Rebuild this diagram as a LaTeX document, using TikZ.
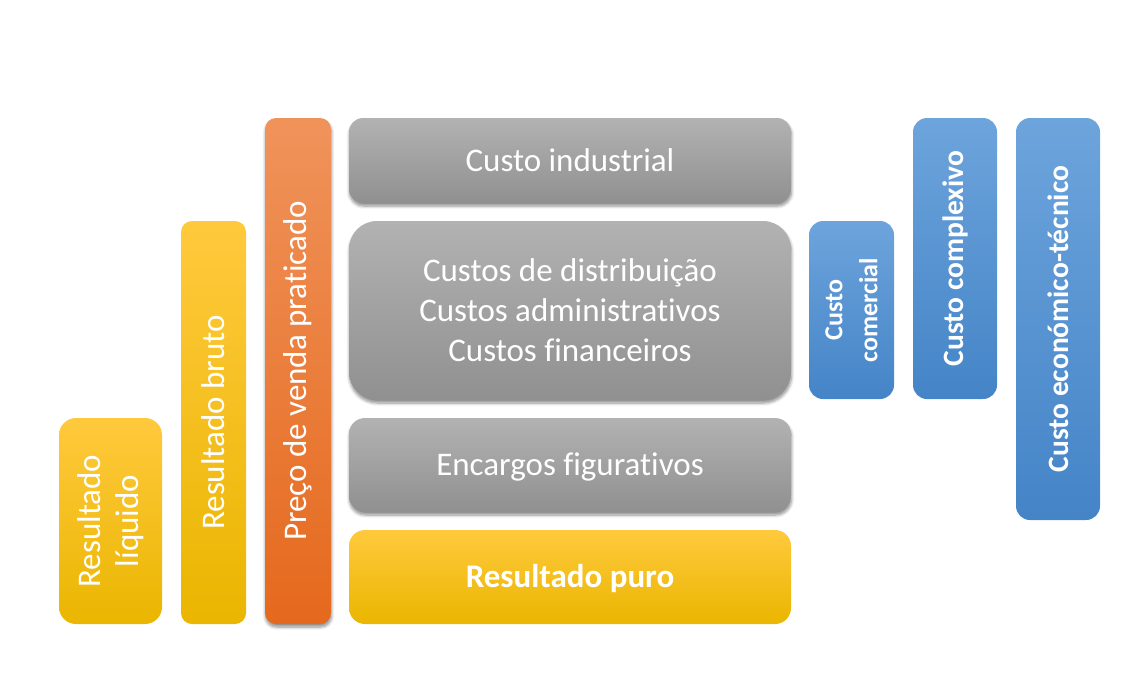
\documentclass[tikz,border=0pt]{standalone}
\usepackage{fontspec}
\setmainfont{Carlito}[Ligatures=NoCommon, RawFeature={-liga;-clig;-dlig;-calt}]
\usetikzlibrary{shadows.blur}

\definecolor{cinzaTopo}{HTML}{B2B2B2}
\definecolor{cinzaBase}{HTML}{909090}
\definecolor{amareloTopo}{HTML}{FFC93D}
\definecolor{amareloMeio}{HTML}{FFC000}
\definecolor{amareloBase}{HTML}{EAB600}
\definecolor{laranjaTopo}{HTML}{F0935B}
\definecolor{laranjaBase}{HTML}{E5691D}
\definecolor{azulTopo}{HTML}{6DA4DC}
\definecolor{azulBase}{HTML}{4484C7}

\begin{document}
\begin{tikzpicture}[x=1pt,y=-1pt,
    caixa/.style={rectangle, rounded corners=14pt, inner sep=0pt},
    sombra/.style={blur shadow={shadow xshift=0.5pt, shadow yshift=-3pt,
        shadow blur steps=6, shadow blur radius=3pt, shadow opacity=45}},
    cinza/.style={caixa, sombra, top color=cinzaTopo, bottom color=cinzaBase},
    amarelo/.style={caixa, top color=amareloTopo, middle color=amareloMeio,
        bottom color=amareloBase},
    laranja/.style={caixa, sombra, top color=laranjaTopo, bottom color=laranjaBase},
    azul/.style={caixa, top color=azulTopo, bottom color=azulBase},
    texto/.style={text=white, align=center, font=\fontsize{33}{40}\selectfont},
    textoazul/.style={text=white, align=center, font=\bfseries\fontsize{29.5}{35}\selectfont}]

    \useasboundingbox (0,0) rectangle (1145,681);

    % colunas da esquerda
    \node[amarelo, minimum width=103, minimum height=206, rounded corners=17pt] (liquido) at (110.5,521) {};
    \node[texto, rotate=90, font=\fontsize{33}{38}\selectfont] (liquidoT) at (liquido) {Resultado\\líquido};

    \node[amarelo, minimum width=65, minimum height=403, rounded corners=11pt] (bruto) at (213.5,422.5) {};
    \node[texto, rotate=90] (brutoT) at (bruto) {Resultado bruto};

    \node[laranja, minimum width=66, minimum height=506, rounded corners=11pt] (preco) at (298,371) {};
    \node[texto, rotate=90] (precoT) at (preco) {Preço de venda praticado};

    % custos no meio
    \node[cinza, texto, minimum width=442, minimum height=85] (industrial) at (570,160.5) {Custo industrial};
    \node[cinza, texto, minimum width=442, minimum height=179, rounded corners=28pt] (custos) at (570,310.5)
        {Custos de distribuição\\Custos administrativos\\Custos financeiros};
    \node[cinza, minimum width=442, minimum height=94, rounded corners=16pt] (encargos) at (570,465) {};
    \node[texto] (encargosT) at ([yshift=-2pt]encargos.center) {Encargos figurativos};
    \node[amarelo, minimum width=442, minimum height=94, rounded corners=16pt] (puro) at (570,577) {};
    \node[texto, font=\bfseries\fontsize{33}{40}\selectfont] (puroT) at ([yshift=-2pt]puro.center) {Resultado puro};

    % custos da direita
    \node[azul, minimum width=85, minimum height=178] (comercial) at (851.5,310) {};
    \node[textoazul, rotate=90, font=\bfseries\fontsize{26}{35}\selectfont] (comercialT) at (comercial) {Custo\\comercial};

    \node[azul, minimum width=84, minimum height=281] (complexivo) at (955,258.5) {};
    \node[textoazul, rotate=90] (complexivoT) at (complexivo) {Custo complexivo};

    \node[azul, minimum width=84, minimum height=402] (economico) at (1058,319) {};
    \node[textoazul, rotate=90] (economicoT) at (economico) {Custo económico-técnico};
\end{tikzpicture}
\end{document}
